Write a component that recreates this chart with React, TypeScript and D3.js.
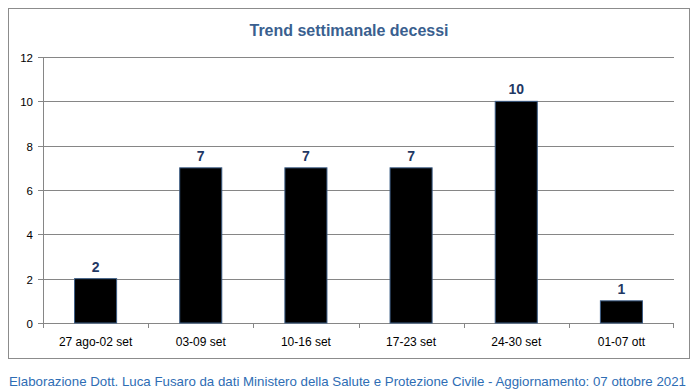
import * as d3 from "d3";

const categories = ["27 ago-02 set", "03-09 set", "10-16 set", "17-23 set", "24-30 set", "01-07 ott"];
const deaths = [2, 7, 7, 7, 10, 1];
const yTicks = [0, 2, 4, 6, 8, 10, 12];

const title = "Trend settimanale decessi";
const footer = "Elaborazione Dott. Luca Fusaro da dati Ministero della Salute e Protezione Civile - Aggiornamento: 07 ottobre 2021";

const width = 698;
const height = 392;
const margin = { top: 57, right: 24, bottom: 69, left: 43 };

const App = () => {
  const innerWidth = width - margin.left - margin.right;
  const innerHeight = height - margin.top - margin.bottom;

  const xScale = d3.scaleBand().domain(categories).range([0, innerWidth]).paddingInner(0.6).paddingOuter(0.3);
  const bandScale = d3.scaleBand().domain(categories).range([0, innerWidth]);
  const yScale = d3.scaleLinear().domain([0, 12]).range([innerHeight, 0]);
  const font = "Liberation Sans, Arial, sans-serif";

  return (
    <svg width={width} height={height} style={{ position: "absolute", left: 0, top: 0, background: "#fff" }} fontFamily={font}>
      <rect x={8.5} y={8.5} width={681} height={350} fill="#fff" stroke="#8c8c8c" />
      <text x={349} y={36} textAnchor="middle" fontSize={16} fontWeight="bold" fill="#3a5f8f" textLength={199} lengthAdjust="spacingAndGlyphs">
        {title}
      </text>
      <g transform={`translate(${margin.left},${margin.top})`}>
        {yTicks.map((t) => (
          <g key={t} transform={`translate(0,${Math.round(yScale(t)) + 0.5})`}>
            <line x1={-5} x2={innerWidth} stroke="#868686" />
            <text x={-10} y={4} textAnchor="end" fontSize={11.5} fill="#000">{t}</text>
          </g>
        ))}
        <line x1={0.5} x2={0.5} y1={0} y2={innerHeight} stroke="#868686" />
        {categories.map((c, i) => (
          <g key={c}>
            <line x1={Math.round(bandScale(c)!) + 0.5} x2={Math.round(bandScale(c)!) + 0.5} y1={innerHeight} y2={innerHeight + 5} stroke="#868686" />
            {i === categories.length - 1 && (
              <line x1={innerWidth - 0.5} x2={innerWidth - 0.5} y1={innerHeight} y2={innerHeight + 5} stroke="#868686" />
            )}
            <text x={bandScale(c)! + bandScale.bandwidth() / 2} y={innerHeight + 23} textAnchor="middle" fontSize={12} fill="#000">{c}</text>
          </g>
        ))}
        {categories.map((c, i) => (
          <g key={c}>
            <rect
              x={xScale(c)!}
              y={yScale(deaths[i])}
              width={xScale.bandwidth()}
              height={innerHeight - yScale(deaths[i])}
              fill="#000"
              stroke="#3b5c85"
            />
            <text x={xScale(c)! + xScale.bandwidth() / 2} y={yScale(deaths[i]) - 7} textAnchor="middle" fontSize={14} fontWeight="bold" fill="#1f3864">
              {deaths[i]}
            </text>
          </g>
        ))}
      </g>
      <text x={9} y={386} fontSize={13.5} fill="#2e6db4" textLength={677} lengthAdjust="spacingAndGlyphs">{footer}</text>
    </svg>
  );
};

export default App;
